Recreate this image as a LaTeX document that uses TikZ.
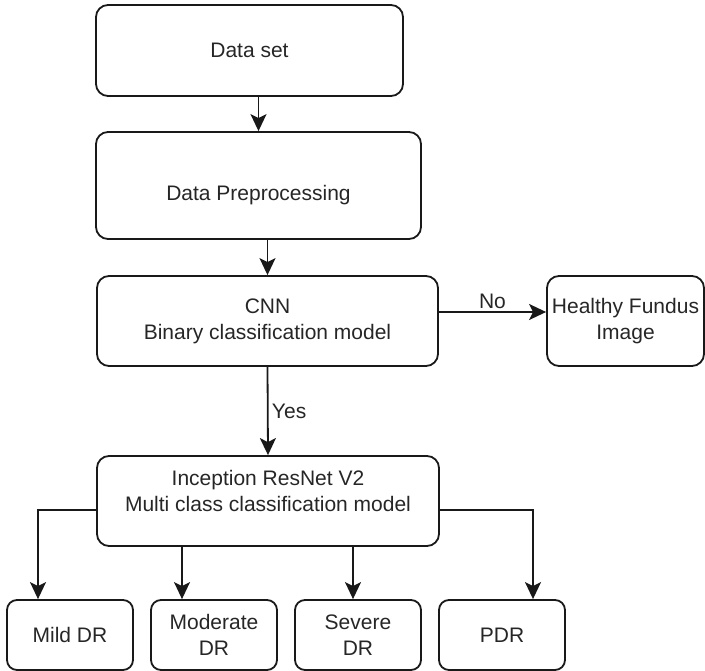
\documentclass[tikz,border=0pt]{standalone}
\usepackage{fontspec}
\setmainfont{Liberation Sans}
\usetikzlibrary{arrows.meta}

\tikzset{
  block/.style={draw=black!90, line width=1.8pt, rounded corners=12pt, inner sep=0pt, align=center},
  classbox/.style={block, rounded corners=10pt, minimum width=126pt, minimum height=70pt},
  flow/.style={draw=black!90, line width=1.8pt, -{Stealth[length=17pt,width=16pt,inset=4pt]}},
}

\begin{document}
\begin{tikzpicture}[x=1pt, y=-1pt, font=\fontsize{21}{26}\selectfont, text=black!85]
  \useasboundingbox (0,0) rectangle (705,671);

  % main column
  \node[block, minimum width=307pt, minimum height=91pt] (ds) at (249.5,50.5) {Data set};
  \node[block, minimum width=325pt, minimum height=107pt,
        label={[yshift=-10pt]center:Data Preprocessing}] (prep) at (258.5,185.5) {};
  \node[block, minimum width=341pt, minimum height=90pt] (cnn) at (267.5,321) {CNN\\Binary classification model};
  \node[block, minimum width=157pt, minimum height=90pt] (healthy) at (625.5,321) {Healthy Fundus\\Image};
  \node[block, minimum width=342pt, minimum height=90pt,
        label={[yshift=10pt,align=center]center:Inception ResNet V2\\Multi class classification model}] (inc) at (268,501) {};

  % output classes
  \foreach \nm/\x/\txt in {mild/70/{Mild DR}, moderate/214/{Moderate\\DR}, severe/358/{Severe\\DR}, pdr/502/{PDR}}
    \node[classbox] (\nm) at (\x,635) {\txt};

  \coordinate (nolev) at (0,312);
  \coordinate (mildtop) at ([xshift=-32pt]mild.north);
  \coordinate (modtop) at ([xshift=-32pt]moderate.north);
  \coordinate (sevtop) at ([xshift=-5pt]severe.north);
  \coordinate (pdrtop) at ([xshift=31pt]pdr.north);

  \draw[flow] (prep.north |- ds.south) -- (prep.north);
  \draw[flow] (cnn.north |- prep.south) -- (cnn.north);
  \draw[flow] (cnn.south) -- node[right] {Yes} (inc.north);
  \draw[flow] (cnn.east |- nolev) -- node[above, inner sep=2pt] {No} (healthy.west |- nolev);

  \draw[flow] ([yshift=-9pt]inc.west) -| (mildtop);
  \draw[flow] (inc.south -| modtop) -- (modtop);
  \draw[flow] (inc.south -| sevtop) -- (sevtop);
  \draw[flow] ([yshift=-9pt]inc.east) -| (pdrtop);
\end{tikzpicture}
\end{document}
